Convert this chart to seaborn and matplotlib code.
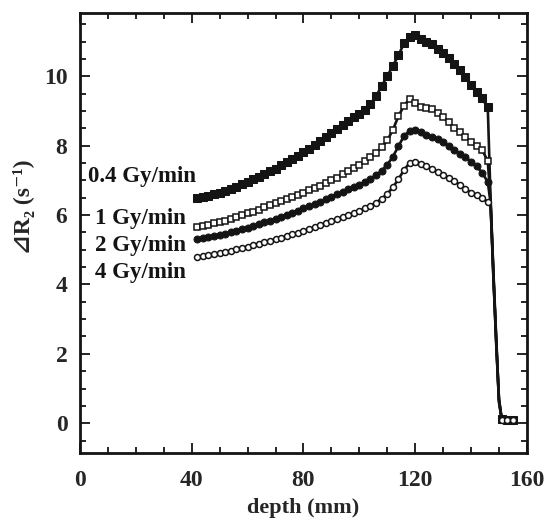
import matplotlib
matplotlib.use('Agg')
import matplotlib.pyplot as plt
from matplotlib.ticker import MultipleLocator
import seaborn as sns
import pandas as pd

# depth grid (mm), plus the distal fall-off
depth = [42, 44, 46, 48, 50, 52, 54, 56, 58, 60, 62, 64, 66, 68, 70, 72, 74, 76, 78, 80,
         82, 84, 86, 88, 90, 92, 94, 96, 98, 100, 102, 104, 106, 108, 110, 112, 114, 116, 118, 120,
         122, 124, 126, 128, 130, 132, 134, 136, 138, 140, 142, 144, 146,
         147, 148, 149, 150, 151, 153, 155]

r2_04gy = [6.48, 6.52, 6.56, 6.61, 6.65, 6.70, 6.76, 6.82, 6.89, 6.96, 7.03, 7.10, 7.18, 7.26, 7.34, 7.43, 7.52, 7.61, 7.71, 7.81,
           7.91, 8.02, 8.13, 8.25, 8.36, 8.48, 8.60, 8.72, 8.82, 8.92, 9.04, 9.20, 9.42, 9.72, 10.00, 10.30, 10.60, 10.95, 11.12, 11.18,
           11.08, 11.00, 10.92, 10.80, 10.66, 10.52, 10.35, 10.17, 9.97, 9.74, 9.55, 9.36, 9.10,
           6.45, 4.40, 2.50, 0.70, 0.12, 0.08, 0.10]

r2_1gy = [5.65, 5.68, 5.72, 5.76, 5.80, 5.84, 5.89, 5.94, 5.99, 6.05, 6.10, 6.16, 6.22, 6.28, 6.34, 6.40, 6.47, 6.53, 6.59, 6.65,
          6.71, 6.78, 6.85, 6.92, 7.00, 7.08, 7.17, 7.26, 7.35, 7.44, 7.55, 7.67, 7.80, 7.95, 8.15, 8.45, 8.85, 9.15, 9.35, 9.24,
          9.12, 9.08, 9.06, 8.95, 8.82, 8.67, 8.51, 8.38, 8.25, 8.10, 7.98, 7.88, 7.55,
          6.40, 4.30, 2.40, 0.60, 0.10, 0.08, 0.08]

r2_2gy = [5.30, 5.33, 5.36, 5.39, 5.42, 5.46, 5.50, 5.54, 5.59, 5.64, 5.69, 5.74, 5.79, 5.84, 5.89, 5.95, 6.01, 6.07, 6.13, 6.19,
          6.25, 6.32, 6.39, 6.46, 6.53, 6.60, 6.67, 6.74, 6.81, 6.88, 6.96, 7.05, 7.15, 7.28, 7.45, 7.68, 7.98, 8.28, 8.42, 8.46,
          8.38, 8.31, 8.26, 8.20, 8.10, 7.98, 7.87, 7.77, 7.67, 7.54, 7.40, 7.22, 6.95,
          6.35, 4.30, 2.30, 0.65, 0.12, 0.10, 0.08]

r2_4gy = [4.78, 4.81, 4.84, 4.87, 4.90, 4.93, 4.97, 5.01, 5.05, 5.09, 5.13, 5.17, 5.21, 5.25, 5.30, 5.34, 5.39, 5.44, 5.49, 5.54,
          5.59, 5.65, 5.70, 5.76, 5.82, 5.88, 5.94, 6.00, 6.06, 6.12, 6.19, 6.27, 6.36, 6.47, 6.61, 6.80, 7.03, 7.30, 7.50, 7.53,
          7.48, 7.40, 7.33, 7.25, 7.16, 7.08, 6.98, 6.87, 6.76, 6.65, 6.57, 6.49, 6.38,
          6.30, 4.20, 2.40, 0.70, 0.10, 0.08, 0.08]

rates = ['0.4 Gy/min', '1 Gy/min', '2 Gy/min', '4 Gy/min']
label_y = [7.12, 5.91, 5.13, 4.35]
label_x = [2.8, 5.3, 5.3, 5.3]

df = pd.DataFrame({'depth': depth * 4,
                   'R2': r2_04gy + r2_1gy + r2_2gy + r2_4gy,
                   'rate': sum([[r] * len(depth) for r in rates], [])})

sns.set_style("ticks")
plt.rcParams['font.family'] = ['Liberation Serif', 'DejaVu Serif', 'DejaVu Sans']
plt.rcParams['font.weight'] = 'bold'

fig = plt.figure(figsize=(5.46, 5.25), dpi=100)
ax = fig.add_axes([0.1465, 0.137, 0.8185, 0.838])

ink = '#141414'
styles = {
    '0.4 Gy/min': dict(marker='s', markersize=6.2, markerfacecolor=ink, markeredgecolor=ink),
    '1 Gy/min': dict(marker='s', markersize=4.6, markerfacecolor='white', markeredgecolor=ink, markeredgewidth=1.1),
    '2 Gy/min': dict(marker='o', markersize=5.0, markerfacecolor=ink, markeredgecolor=ink),
    '4 Gy/min': dict(marker='o', markersize=4.3, markerfacecolor='white', markeredgecolor=ink, markeredgewidth=1.1),
}
# markers on the plateau and on the tail, bare line along the steep fall-off
n_grid = 53
marked = list(range(n_grid)) + [len(depth) - 3, len(depth) - 2, len(depth) - 1]

for r in rates:
    sub = df[df['rate'] == r]
    sns.lineplot(data=sub, x='depth', y='R2', ax=ax, color=ink, linewidth=1.9,
                 estimator=None, markevery=marked, **styles[r])

for r, xx, yy in zip(rates, label_x, label_y):
    ax.text(xx, yy, r, fontsize=16.5, fontweight='bold', va='center', ha='left', color=ink)

ax.set_xlim(0, 160)
ax.set_ylim(-0.86, 11.82)
ax.xaxis.set_major_locator(MultipleLocator(40))
ax.xaxis.set_minor_locator(MultipleLocator(10))
ax.yaxis.set_major_locator(MultipleLocator(2))
ax.yaxis.set_minor_locator(MultipleLocator(0.5))
ax.tick_params(which='both', direction='in', top=True, right=True, color=ink, width=1.3)
ax.tick_params(which='major', length=7, labelsize=17)
ax.tick_params(which='minor', length=4)
ax.tick_params(axis='x', which='major', pad=12)
ax.tick_params(axis='y', which='major', pad=9)
for lab in ax.get_xticklabels() + ax.get_yticklabels():
    lab.set_fontweight('bold')
for sp in ax.spines.values():
    sp.set_linewidth(2)
    sp.set_color(ink)

ax.set_xlabel('depth (mm)', fontsize=16, fontweight='bold', labelpad=5)
ax.set_ylabel('\u22bfR\u2082 (s\u207b\u00b9)', fontsize=17, fontweight='bold')
ax.yaxis.set_label_coords(-0.1, 0.56)

fig.savefig('out.png', dpi=100)
